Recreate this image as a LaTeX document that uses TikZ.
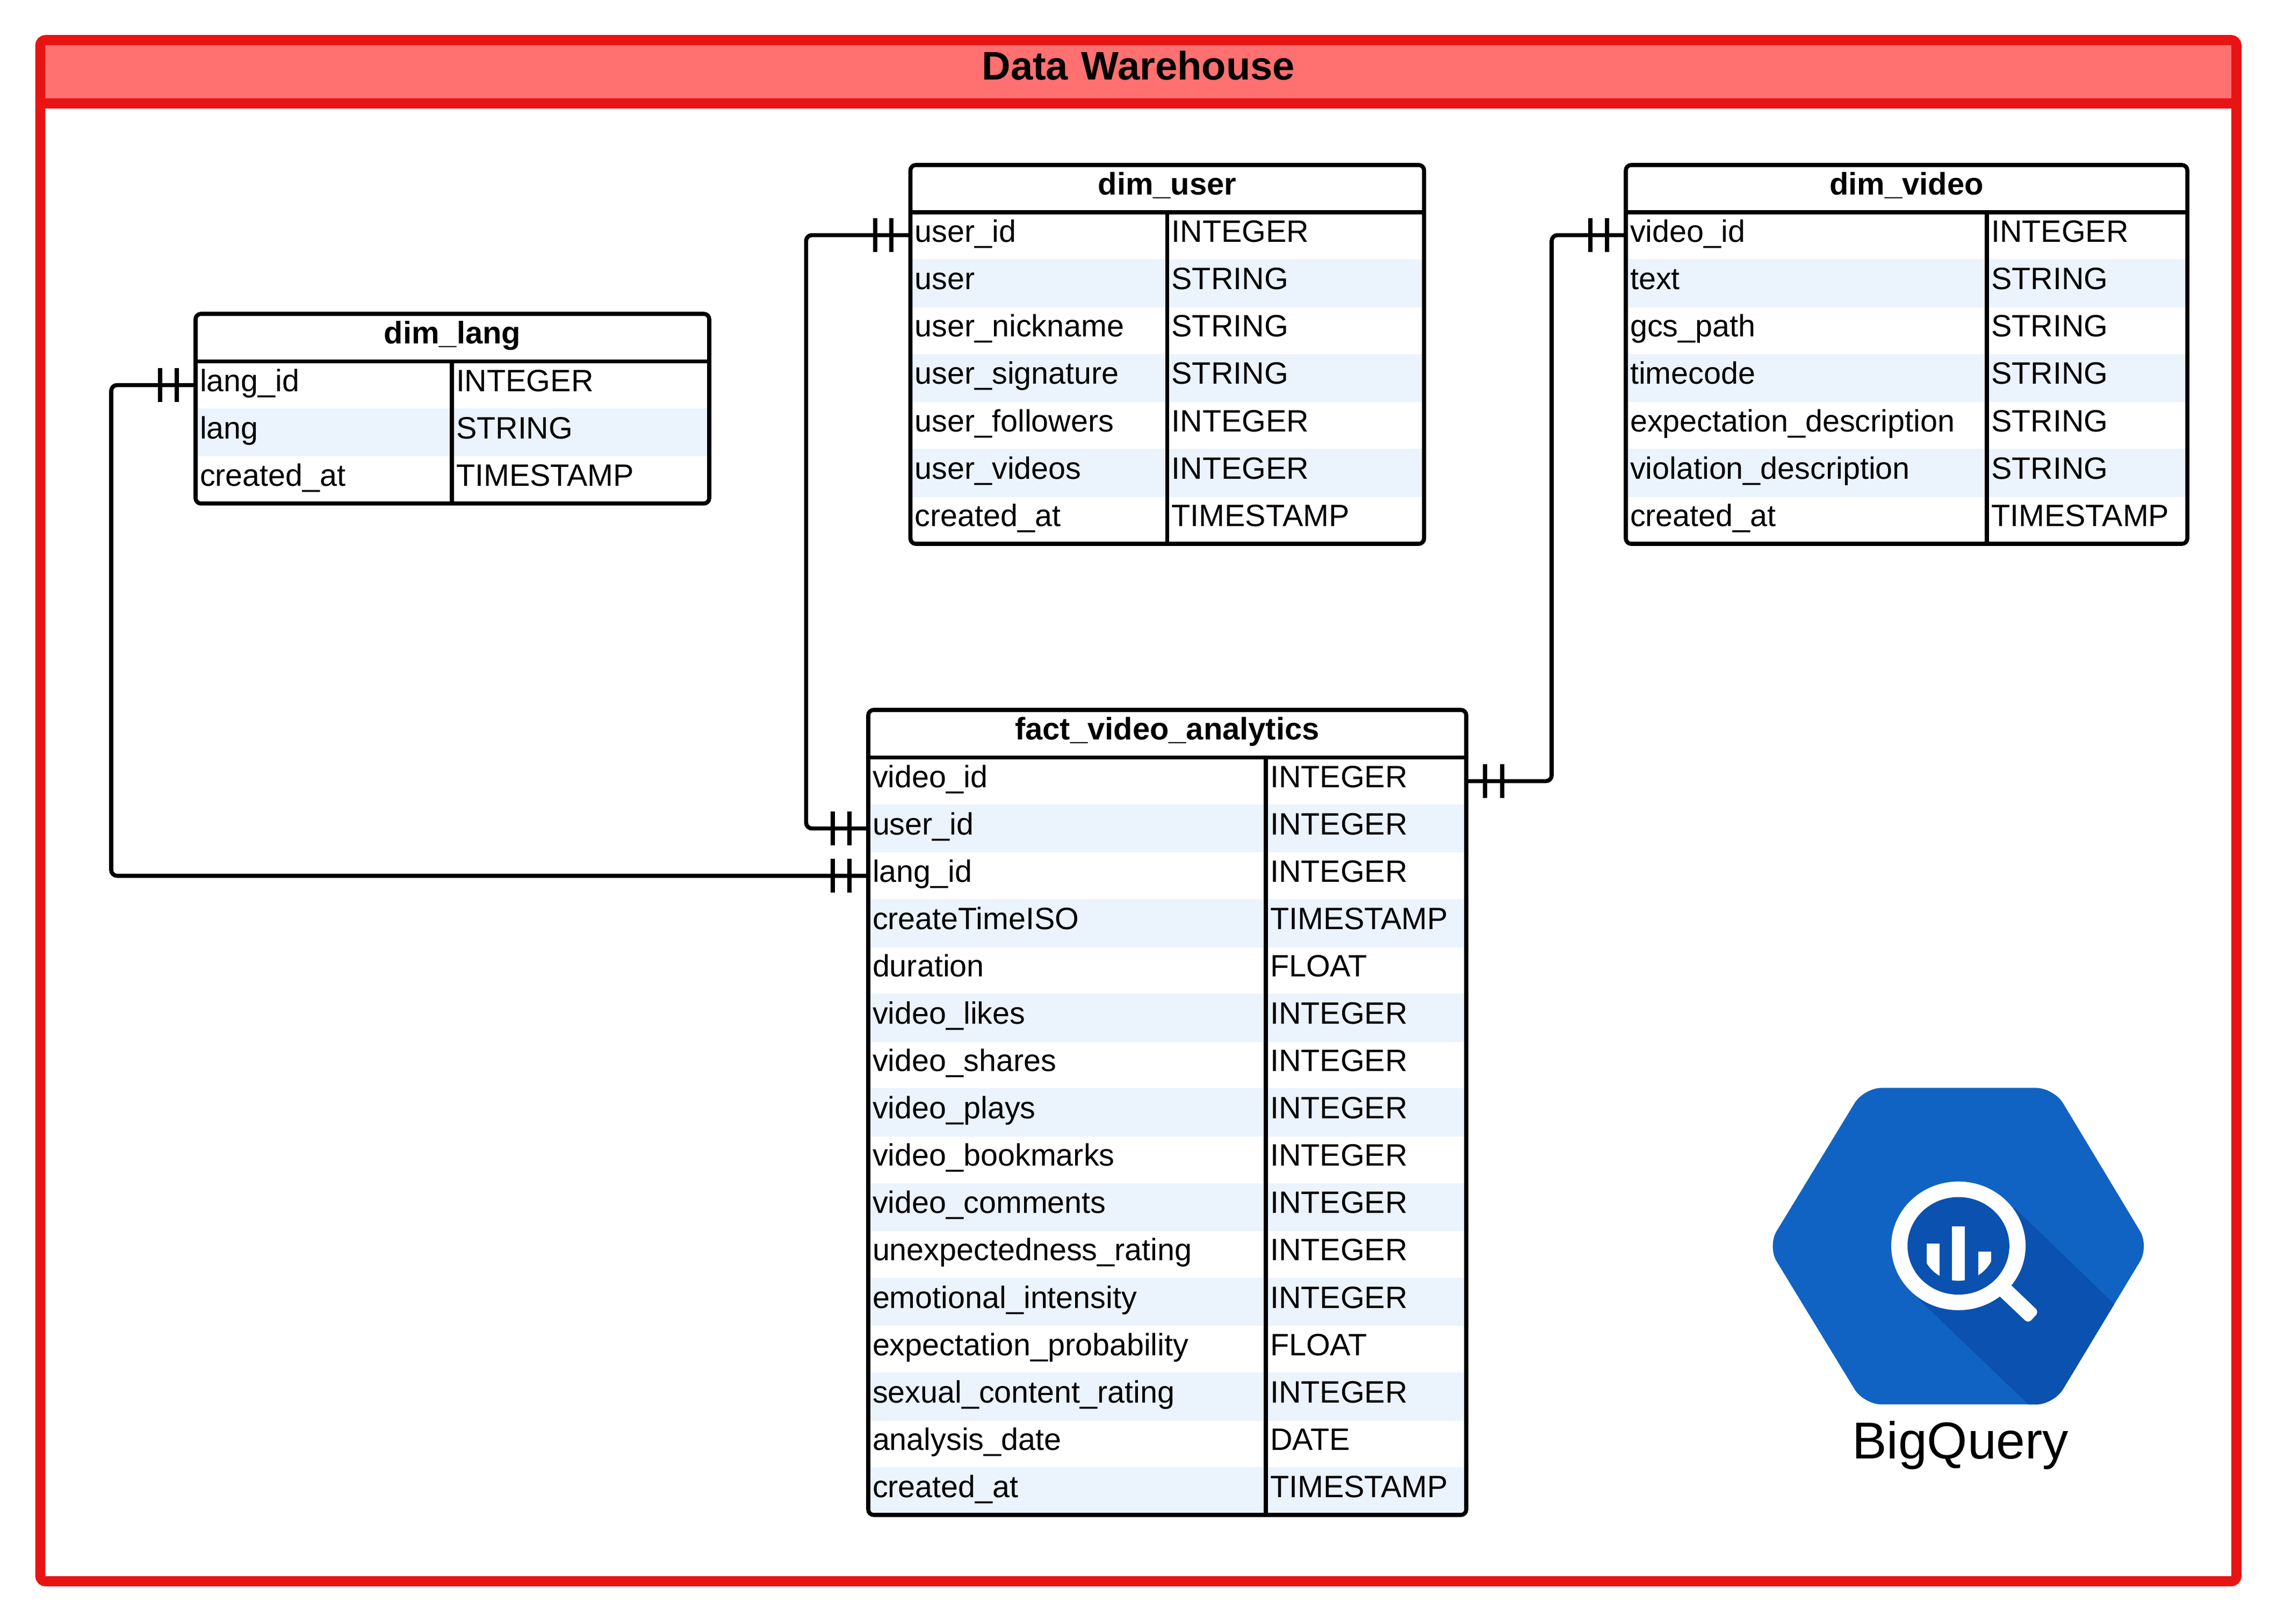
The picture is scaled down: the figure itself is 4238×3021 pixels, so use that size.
\documentclass[tikz,border=0pt]{standalone}
\usepackage{fontspec}
\setmainfont{Liberation Sans}
\definecolor{framered}{HTML}{E81414}
\definecolor{headred}{HTML}{FF7070}
\definecolor{bandblue}{HTML}{EBF3FD}
\definecolor{hexblue}{HTML}{1163C3}
\definecolor{hexdark}{HTML}{0A51B0}
\tikzset{
  cellbase/.style={rectangle,anchor=north west,inner xsep=1.92pt,inner ysep=0pt,outer sep=0pt,
    text height=13.32pt,text depth=7.82pt,align=left,font=\fontsize{13.8}{16}\selectfont},
  whitecell/.style={cellbase},
  bandcell/.style={cellbase,fill=bandblue,draw=bandblue,line width=.36pt},
  headcell/.style={cellbase,align=center,font=\fontsize{13.9}{16}\selectfont\bfseries},
  tableline/.style={black,line width=1.824pt},
  connector/.style={black,line width=1.824pt,rounded corners=2.6pt},
  onebar/.style={black,line width=1.92pt},
  titlecell/.style={rectangle,anchor=north west,inner sep=0pt,outer sep=0pt,fill=headred,
    text height=17.8pt,text depth=10.5pt,align=center,font=\fontsize{17.8}{20}\selectfont\bfseries},
  bqlabelstyle/.style={anchor=base,inner sep=0pt,font=\fontsize{23.2}{26}\selectfont},
}
% prefix, x0, xdiv, x1, ytop, yhead, row height, title, rows
\newcommand{\ertable}[9]{%
  \pgfmathsetmacro{\hw}{(#4-#2-16)*0.24}%
  \pgfmathsetmacro{\lw}{(#3-#2-16)*0.24}%
  \pgfmathsetmacro{\rw}{(#4-#3-16)*0.24}%
  \node[headcell,text width=\hw pt] (#1h) at (#2,#5) {#8};
  \gdef\lastrow{0}%
  \foreach \fname/\ftype [count=\i from 0] in {#9} {
    \pgfmathsetmacro{\yy}{#6+#7*\i}
    \pgfmathtruncatemacro{\oddrow}{mod(\i,2)}
    \pgfmathtruncatemacro{\j}{\i+1}
    \ifnum\oddrow=1 \def\cellkind{bandcell}\else\def\cellkind{whitecell}\fi
    \node[\cellkind,text width=\lw pt] (#1\j) at (#2,\yy) {\fname};
    \node[\cellkind,text width=\rw pt] (#1\j t) at (#3,\yy) {\ftype};
    \global\let\lastrow\j
  }
  \pgfmathsetmacro{\yb}{#6+#7*\lastrow}
  \draw[tableline,rounded corners=2.4pt] (#2,#5) rectangle (#4,\yb);
  \draw[tableline] (#2,#6) -- (#4,#6);
  \draw[tableline] (#3,#6) -- (#3,\yb);
}
% two bars on a connector, at signed offsets from a coordinate
\newcommand{\erbars}[3]{%
  \draw[onebar] ([shift={(#2,-31.5)}]#1) -- ([shift={(#2,31.5)}]#1);
  \draw[onebar] ([shift={(#3,-31.5)}]#1) -- ([shift={(#3,31.5)}]#1);
}
\begin{document}
\begin{tikzpicture}[x=0.24pt,y=-0.24pt]
\useasboundingbox (0,0) rectangle (4238,3021);
\fill[white] (0,0) rectangle (4238,3021);

% outer frame
\node[titlecell,text width=981pt] (title) at (75,74.5) {Data Warehouse};
\draw[framered,line width=4.49pt,rounded corners=2.4pt] (75,74.5) rectangle (4162.5,2942.5);
\draw[framered,line width=4.6pt] (65.7,192.5) -- (4171.8,192.5);

% tables
\ertable{l}{364}{841}{1320}{584}{672.5}{88.14}{dim\_lang}{
  lang\_id/INTEGER, lang/STRING, created\_at/TIMESTAMP}
\ertable{u}{1694.5}{2172.5}{2650.5}{307}{395}{88.14}{dim\_user}{
  user\_id/INTEGER, user/STRING, user\_nickname/STRING, user\_signature/STRING,
  user\_followers/INTEGER, user\_videos/INTEGER, created\_at/TIMESTAMP}
\ertable{v}{3026}{3698}{4071}{307}{395}{88.14}{dim\_video}{
  video\_id/INTEGER, text/STRING, gcs\_path/STRING, timecode/STRING,
  expectation\_description/STRING, violation\_description/STRING, created\_at/TIMESTAMP}
\ertable{f}{1616}{2356}{2729}{1321}{1409.5}{88.09}{fact\_video\_analytics}{
  video\_id/INTEGER, user\_id/INTEGER, lang\_id/INTEGER, createTimeISO/TIMESTAMP,
  duration/FLOAT, video\_likes/INTEGER, video\_shares/INTEGER, video\_plays/INTEGER,
  video\_bookmarks/INTEGER, video\_comments/INTEGER, unexpectedness\_rating/INTEGER,
  emotional\_intensity/INTEGER, expectation\_probability/FLOAT,
  sexual\_content\_rating/INTEGER, analysis\_date/DATE, created\_at/TIMESTAMP}

% connectors
\coordinate (ubus) at (1500.3,0);
\coordinate (vbus) at (2888,0);
\coordinate (lbus) at (207,0);
\coordinate (uend) at ([yshift=.36pt]u1.west);
\coordinate (vend) at ([yshift=.36pt]v1.west);
\coordinate (fvend) at (f1t.east);
\draw[connector] (f2.west) -- (f2.west -| ubus) -- (uend -| ubus) -- (uend);
\draw[connector] (f3.west) -- (f3.west -| lbus) -- (l1.west -| lbus) -- (l1.west);
\draw[connector] (fvend) -- (fvend -| vbus) -- (vend -| vbus) -- (vend);
\erbars{uend}{-35.5}{-66}
\erbars{vend}{-35.5}{-66}
\erbars{l1.west}{-35.5}{-66}
\erbars{f2.west}{-35}{-66}
\erbars{f3.west}{-35}{-66}
\erbars{fvend}{35}{66.5}

% BigQuery logo
\def\hexpath{(3289.5,2319) -- (3469,2024.4) -- (3822.6,2024.4) -- (4000,2319) -- (3822.6,2613.4) -- (3469,2613.4) -- cycle}
\fill[hexblue,rounded corners=7.9pt] \hexpath;
\begin{scope}
  \path[clip,rounded corners=7.9pt] \hexpath;
  \fill[hexdark] (3750,2248) -- (4010,2499) -- (4010,2640) -- (3803,2640) -- (3566.7,2413.3) -- cycle;
\end{scope}
\fill[white] (3645,2318.3) ellipse [x radius=125,y radius=119.7];
\fill[hexdark] (3645,2318.3) ellipse [x radius=94.8,y radius=90.8];
\begin{scope}
  \clip (3645,2318.3) ellipse [x radius=68,y radius=65];
  \fill[white] (3586,2313.7) rectangle (3610,2400);
  \fill[white] (3632.7,2282) rectangle (3656.7,2400);
  \fill[white] (3682,2329) rectangle (3706,2400);
\end{scope}
\fill[white] (3730,2379) -- (3709,2400) [rounded corners=2pt] -- (3775,2462.7) -- (3795,2441) [sharp corners] -- cycle;
\node[bqlabelstyle] (bqlabel) at (3648.6,2714) {BigQuery};
\end{tikzpicture}
\end{document}
